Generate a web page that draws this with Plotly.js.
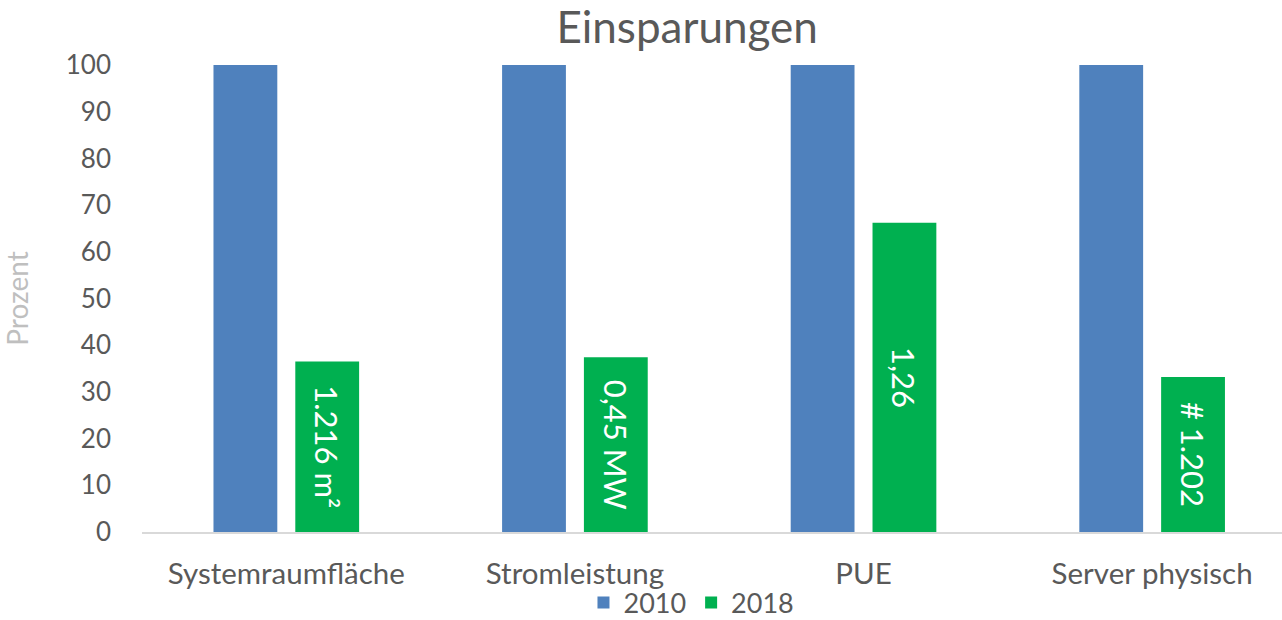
<!DOCTYPE html>
<html>
<head>
<meta charset="utf-8">
<script src="https://cdn.plot.ly/plotly-3.0.1.min.js"></script>
<style>html,body{margin:0;padding:0;background:#fff;}#chart{width:1282px;height:620px;}</style>
</head>
<body>
<div id="chart"></div>
<script>
const categories = ["Systemraumfläche", "Stromleistung", "PUE", "Server physisch"];
const values2010 = [100, 100, 100, 100];
const values2018 = [36.5, 37.4, 66.2, 33.2];
const labels2018 = ["1.216 m²", "0,45 MW", "1,26", "# 1.202"];
const seriesNames = ["2010", "2018"];

const FONT = "Lato, 'Open Sans', sans-serif";

const traces = [
  {
    type: "bar", name: seriesNames[0], x: categories, y: values2010,
    marker: {color: "#4f81bd"}, hoverinfo: "skip"
  },
  {
    type: "bar", name: seriesNames[1], x: categories, y: values2018,
    marker: {color: "#00b050"},
    text: labels2018, textposition: "inside", insidetextanchor: "middle",
    textangle: 90, constraintext: "none",
    textfont: {color: "#ffffff", size: 31, family: FONT}, hoverinfo: "skip"
  }
];

const layout = {
  width: 1282, height: 620,
  margin: {l: 142, r: 0, t: 65, b: 88, autoexpand: false},
  paper_bgcolor: "#ffffff", plot_bgcolor: "#ffffff",
  font: {family: FONT, color: "#595959", size: 26},
  title: {text: "Einsparungen", font: {size: 44, color: "#595959", family: FONT},
          x: 0.536, xanchor: "center", xref: "container", y: 0.955, yanchor: "middle", yref: "container"},
  barmode: "group", bargap: 0.433, bargroupgap: 0.22,
  showlegend: true,
  legend: {orientation: "h", x: 0.482, xanchor: "center", y: -0.152, yanchor: "middle",
           bgcolor: "rgba(0,0,0,0)", borderwidth: 0,
           font: {size: 27, color: "#595959"}, traceorder: "normal"},
  xaxis: {
    range: [-0.5, 3.45], showline: true, linecolor: "#d9d9d9", linewidth: 1.5,
    ticks: "", showgrid: false, tickfont: {size: 29.5, color: "#595959"}, ticklabelstandoff: 15, fixedrange: true
  },
  yaxis: {
    range: [0, 100], dtick: 10, showgrid: false, zeroline: false, showline: false,
    ticks: "", ticklabelstandoff: 30, tickfont: {size: 26, color: "#595959"},
    title: {text: "Prozent", font: {size: 28, color: "#bfbfbf"}, standoff: 36}, fixedrange: true
  }
};

Plotly.newPlot("chart", traces, layout, {displayModeBar: false, staticPlot: true});
</script>
</body>
</html>
